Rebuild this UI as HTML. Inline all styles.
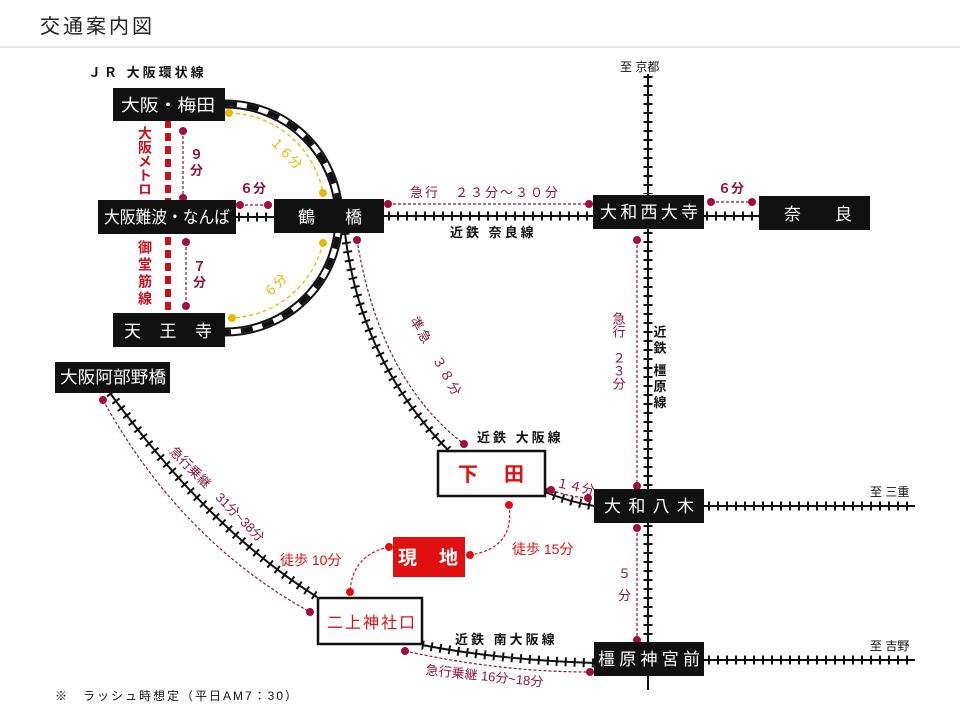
<!DOCTYPE html>
<html><head><meta charset="utf-8">
<style>
body{margin:0;background:#fff;}
svg{display:block;font-family:"Liberation Sans","Noto Sans CJK JP",sans-serif;}
.st{fill:#fff;font-size:17px;}
.m{fill:#8a1538;font-size:13px;}
.k{fill:#111;font-size:13px;font-weight:bold;letter-spacing:3px;}
</style></head><body>
<svg width="960" height="720" viewBox="0 0 960 720">
<text x="40" y="33" font-size="20" fill="#222" letter-spacing="3">交通案内図</text>
<line x1="0" y1="47" x2="960" y2="47" stroke="#ccc"/>

<g fill="none" stroke="#111">
 <g stroke-width="2">
  <line x1="236" y1="217" x2="274" y2="217"/>
  <line x1="384" y1="216" x2="594" y2="216"/>
  <line x1="704" y1="216" x2="759" y2="216"/>
  <line x1="648" y1="74" x2="648" y2="690"/>
  <line x1="704" y1="506" x2="915" y2="506"/>
  <line x1="704" y1="660" x2="915" y2="660"/>
  <path d="M345 233 Q360 360 448 450"/>
  <path d="M545 492 Q570 502 594 506"/>
  <path d="M110 393 Q210 530 317 597"/>
  <path d="M422 645 Q500 660 594 663"/>
 </g>
 <g stroke-width="9" stroke-dasharray="2 7">
  <line x1="238" y1="217" x2="274" y2="217"/>
  <line x1="388" y1="216" x2="594" y2="216"/>
  <line x1="706" y1="216" x2="759" y2="216"/>
  <line x1="648" y1="76" x2="648" y2="194"/>
  <line x1="648" y1="232" x2="648" y2="489"/>
  <line x1="648" y1="525" x2="648" y2="642"/>
  <line x1="708" y1="506" x2="915" y2="506"/>
  <line x1="708" y1="660" x2="915" y2="660"/>
  <path d="M345 233 Q360 360 448 450"/>
  <path d="M545 492 Q570 502 594 506"/>
  <path d="M110 393 Q210 530 317 597"/>
  <path d="M422 645 Q500 660 594 663"/>
 </g>
</g>
<path d="M225 104 A114 114 0 0 1 225 332" fill="none" stroke="#111" stroke-width="9"/>
<path d="M225 104 A114 114 0 0 1 225 332" fill="none" stroke="#fff" stroke-width="5"/>
<path d="M225 104 A114 114 0 0 1 225 332" fill="none" stroke="#111" stroke-width="5" stroke-dasharray="12 10"/>
<line x1="168" y1="120" x2="168" y2="313" stroke="#c8101e" stroke-width="6" stroke-dasharray="8 5"/>
<text x="145" y="126" fill="#c8101e" font-size="14" font-weight="bold" letter-spacing="0" style="writing-mode:vertical-rl">大阪メトロ</text>
<text x="145" y="240" fill="#c8101e" font-size="14" font-weight="bold" letter-spacing="3" style="writing-mode:vertical-rl">御堂筋線</text>

<g fill="none" stroke="#e8b800" stroke-width="1.3" stroke-dasharray="4 3">
 <path d="M229 113 A98 98 0 0 1 323 193"/>
 <path d="M323 243 A98 98 0 0 1 232 318"/>
</g>
<g fill="#e8b800"><circle cx="229" cy="113" r="4"/><circle cx="323" cy="193" r="4"/><circle cx="323" cy="243" r="4"/><circle cx="232" cy="318" r="4"/></g>
<text x="262" y="150" fill="#e8b800" font-size="13" transform="rotate(45 275 155)">１６分</text>
<text x="262" y="290" fill="#e8b800" font-size="13" transform="rotate(-45 275 285)">６分</text>

<g fill="none" stroke="#8a1538" stroke-width="1.2" stroke-dasharray="3 2">
 <line x1="183" y1="131" x2="183" y2="198"/>
 <line x1="186" y1="242" x2="186" y2="306"/>
 <line x1="240" y1="205" x2="268" y2="205"/>
 <line x1="388" y1="204" x2="589" y2="204"/>
 <line x1="711" y1="202" x2="752" y2="202"/>
 <line x1="637" y1="240" x2="637" y2="486"/>
 <line x1="637" y1="528" x2="637" y2="640"/>
 <path d="M357 240 Q380 380 464 444"/>
 <path d="M551 490 Q570 497 588 498"/>
 <path d="M103 400 Q180 540 310 612"/>
 <path d="M405 651 Q500 672 590 672"/>
</g>
<g fill="none" stroke="#e01010" stroke-width="1.2" stroke-dasharray="3 2">
 <path d="M509 505 Q515 548 470 555"/>
 <path d="M389 547 Q352 555 350 592"/>
</g>
<g fill="#a30d3c">
 <circle cx="183" cy="131" r="4"/><circle cx="183" cy="198" r="4"/>
 <circle cx="186" cy="242" r="4"/><circle cx="186" cy="306" r="4"/>
 <circle cx="240" cy="205" r="4"/><circle cx="268" cy="205" r="4"/>
 <circle cx="388" cy="204" r="4"/><circle cx="589" cy="204" r="4"/>
 <circle cx="711" cy="202" r="4"/><circle cx="752" cy="202" r="4"/>
 <circle cx="637" cy="240" r="4"/><circle cx="637" cy="486" r="4"/>
 <circle cx="637" cy="528" r="4"/><circle cx="637" cy="640" r="4"/>
 <circle cx="357" cy="240" r="4"/><circle cx="464" cy="444" r="4"/>
 <circle cx="551" cy="490" r="4"/><circle cx="588" cy="498" r="4"/>
 <circle cx="103" cy="400" r="4"/><circle cx="310" cy="612" r="4"/>
 <circle cx="405" cy="651" r="4"/><circle cx="590" cy="672" r="4"/>
</g>
<g fill="#e01010">
 <circle cx="509" cy="505" r="4"/><circle cx="470" cy="555" r="4"/>
 <circle cx="389" cy="547" r="4"/><circle cx="350" cy="592" r="4"/>
</g>

<text x="190" y="159" class="m" font-weight="bold">９</text>
<text x="190" y="175" class="m" font-weight="bold">分</text>
<text x="193" y="271" class="m" font-weight="bold">７</text>
<text x="193" y="287" class="m" font-weight="bold">分</text>
<text x="240" y="193" class="m" font-weight="bold">６分</text>
<text x="410" y="197" class="m" letter-spacing="2">急行　２３分～３０分</text>
<text x="718" y="193" class="m" font-weight="bold">６分</text>
<text x="618" y="312" class="m" style="writing-mode:vertical-rl">急行　２３分</text>
<text x="618" y="578" class="m">５</text>
<text x="618" y="600" class="m">分</text>
<text x="556" y="489" class="m" transform="rotate(12 566 485)">１４分</text>
<text x="374" y="318" class="m" transform="rotate(60 390 350)" letter-spacing="2">準急　３８分</text>
<text x="120" y="490" class="m" transform="rotate(45 190 530)">急行乗継　31分~38分</text>
<text x="425" y="680" class="m" transform="rotate(6 480 680)">急行乗継 16分~18分</text>
<text x="512" y="554" fill="#e01010" font-size="14">徒歩 15分</text>
<text x="280" y="565" fill="#e01010" font-size="14">徒歩 10分</text>

<text x="88" y="77" class="k" letter-spacing="5">ＪＲ 大阪環状線</text>
<text x="620" y="71" font-size="12" fill="#111">至 京都</text>
<text x="450" y="237" class="k">近鉄 奈良線</text>
<text x="659" y="325" class="k" style="writing-mode:vertical-rl">近鉄 橿原線</text>
<text x="477" y="442" class="k">近鉄 大阪線</text>
<text x="455" y="644" class="k">近鉄 南大阪線</text>
<text x="870" y="496" font-size="12" fill="#111">至 三重</text>
<text x="870" y="650" font-size="12" fill="#111">至 吉野</text>
<text x="55" y="700" font-size="12" fill="#111" letter-spacing="2">※　ラッシュ時想定（平日AM7：30）</text>

<g fill="#111">
 <rect x="113" y="88" width="112" height="33"/>
 <rect x="98" y="200" width="138" height="34"/>
 <rect x="274" y="199" width="110" height="34"/>
 <rect x="113" y="313" width="112" height="34"/>
 <rect x="55" y="362" width="115" height="31"/>
 <rect x="593" y="195" width="111" height="34"/>
 <rect x="759" y="196" width="111" height="34"/>
 <rect x="594" y="489" width="110" height="34"/>
 <rect x="594" y="642" width="110" height="34"/>
</g>
<rect x="438" y="451" width="107" height="45" fill="#fff" stroke="#111" stroke-width="2.5"/>
<rect x="318" y="598" width="104" height="46" fill="#fff" stroke="#111" stroke-width="2.5"/>
<rect x="393" y="537" width="72" height="40" fill="#e01010"/>

<text x="121" y="111" class="st" textLength="94" lengthAdjust="spacingAndGlyphs">大阪・梅田</text>
<text x="104" y="223" class="st" font-size="14" textLength="126" lengthAdjust="spacingAndGlyphs">大阪難波・なんば</text>
<text x="298" y="223" class="st" font-size="18" textLength="64" lengthAdjust="spacing">鶴橋</text>
<text x="124" y="337" class="st" font-size="18" textLength="88" lengthAdjust="spacing">天王寺</text>
<text x="60" y="383" class="st" font-size="14" textLength="106" lengthAdjust="spacingAndGlyphs">大阪阿部野橋</text>
<text x="600" y="218" class="st" font-size="15" textLength="98" lengthAdjust="spacing">大和西大寺</text>
<text x="784" y="220" class="st" font-size="18" textLength="68" lengthAdjust="spacing">奈良</text>
<text x="604" y="512" class="st" font-size="15" textLength="90" lengthAdjust="spacing">大和八木</text>
<text x="598" y="665" class="st" font-size="15" textLength="102" lengthAdjust="spacing">橿原神宮前</text>
<text x="458" y="481" fill="#e01010" font-size="20" font-weight="bold" textLength="66" lengthAdjust="spacing">下田</text>
<text x="327" y="628" fill="#e01010" font-size="16" textLength="88" lengthAdjust="spacing">二上神社口</text>
<text x="398" y="564" fill="#fff" font-size="19" font-weight="bold" textLength="60" lengthAdjust="spacing">現地</text>
</svg>
</body></html>
